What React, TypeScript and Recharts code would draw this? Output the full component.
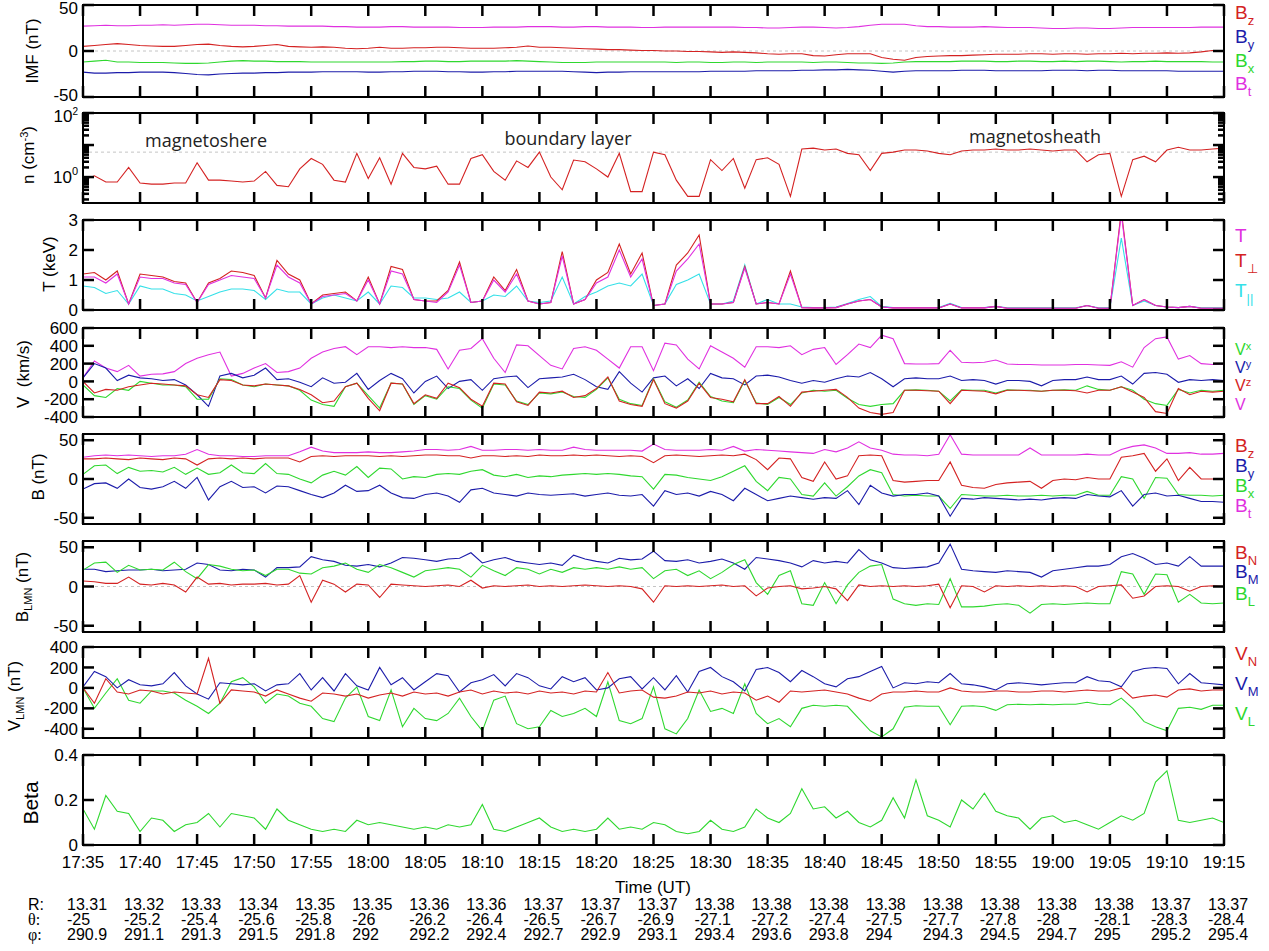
import React from "react";
import { LineChart, Line, XAxis, YAxis, ReferenceLine } from "recharts";

const FONT = "'Liberation Sans', Arial, sans-serif";
const FIG_W = 1269;
const FIG_H = 951;
const PLOT_L = 83;
const PLOT_R = 1224;
const PAD = 12;

const RED = "#d42222";
const BLUE = "#1c1caa";
const GREEN = "#2fd82f";
const MAGENTA = "#e030e0";
const CYAN = "#35e0e8";

// minutes after 17:35 UT
const MINUTES = [
  0, 1, 2, 3, 4, 5, 6, 7, 8, 9, 10, 11, 12, 13, 14, 15, 16, 17, 18, 19,
  20, 21, 22, 23, 24, 25, 26, 27, 28, 29, 30, 31, 32, 33, 34, 35, 36, 37, 38, 39,
  40, 41, 42, 43, 44, 45, 46, 47, 48, 49, 50, 51, 52, 53, 54, 55, 56, 57, 58, 59,
  60, 61, 62, 63, 64, 65, 66, 67, 68, 69, 70, 71, 72, 73, 74, 75, 76, 77, 78, 79,
  80, 81, 82, 83, 84, 85, 86, 87, 88, 89, 90, 91, 92, 93, 94, 95, 96, 97, 98, 99, 100,
];
const TICK_MIN = [0, 5, 10, 15, 20, 25, 30, 35, 40, 45, 50, 55, 60, 65, 70, 75, 80, 85, 90, 95, 100];
const TICK_LABELS = [
  "17:35", "17:40", "17:45", "17:50", "17:55", "18:00", "18:05", "18:10", "18:15", "18:20", "18:25",
  "18:30", "18:35", "18:40", "18:45", "18:50", "18:55", "19:00", "19:05", "19:10", "19:15",
];
const R_VALUES = ["13.31", "13.32", "13.33", "13.34", "13.35", "13.35", "13.36", "13.36", "13.37", "13.37", "13.37",
  "13.38", "13.38", "13.38", "13.38", "13.38", "13.38", "13.38", "13.38", "13.37", "13.37"];
const THETA_VALUES = ["-25", "-25.2", "-25.4", "-25.6", "-25.8", "-26", "-26.2", "-26.4", "-26.5", "-26.7", "-26.9",
  "-27.1", "-27.2", "-27.4", "-27.5", "-27.7", "-27.8", "-28", "-28.1", "-28.3", "-28.4"];
const PHI_VALUES = ["290.9", "291.1", "291.3", "291.5", "291.8", "292", "292.2", "292.4", "292.7", "292.9", "293.1",
  "293.4", "293.6", "293.8", "294", "294.3", "294.5", "294.7", "295", "295.2", "295.4"];

// crossing times (minutes after 17:35) marked by vertical lines
const EVENT_MIN = [18.8, 20.2, 22.2, 23.75, 26.2, 33.4, 42.6, 50.0, 56.6, 59.25, 67.75, 75.8, 79.3];

// IMF (nT)
const IMF_BT = [
  27, 27.5, 28, 27.5, 27.5, 28, 28, 28.5, 28, 28.5,
  29, 29, 28.5, 28, 28, 28, 27.5, 27.5, 27, 27,
  27, 27, 26.5, 26.5, 26, 26, 26, 26.5, 26.5, 26,
  26, 26, 26, 25.5, 25.5, 25.5, 26, 26, 26, 26.5,
  26.5, 26.5, 26, 26, 26.5, 26.5, 26, 26, 26, 25.5,
  25.5, 26, 26, 26, 26, 26, 26, 26, 25.5, 25.5,
  25, 25, 25.5, 26, 26, 25.5, 25, 25.5, 26.5, 28,
  29, 29, 29, 27.5, 26.5, 26.5, 26, 26, 26, 26.5,
  26, 25.5, 25.5, 25.5, 25, 24.5, 24.5, 25, 25, 24.5,
  24.5, 25, 25.5, 25.5, 25.5, 25.5, 25.5, 25.5, 26, 26,
  26,
];
const IMF_BZ = [
  5, 6, 7, 8, 7, 6, 5.5, 5, 5, 6,
  7, 7.5, 6, 5, 4.5, 5, 6, 7, 5, 4.5,
  4, 4.5, 4, 3, 2.5, 3, 4, 3, 3, 3.5,
  3.5, 4, 4, 3.5, 3, 3, 3, 3.5, 4, 5.5,
  4, 4, 3.5, 3, 2.5, 2, 1.5, 1.5, 1, 0.5,
  0.5, 0, 0, -0.5, -0.5, -1, -1.5, -1, -1.5, -2,
  -3, -3.5, -3, -3, -5, -5.5, -4, -3, -3, -3,
  -7, -9, -10, -7, -6, -5.5, -5, -5, -4.5, -4,
  -3.5, -3.5, -3.5, -3, -3, -3.5, -3, -3, -3.5, -3,
  -3, -2.5, -3, -2.5, -2.5, -2, -2.5, -2, -1, 0.5,
  0.5,
];
const IMF_BX = [
  -12, -11, -10, -12, -12, -12.5, -12.5, -12.5, -13, -13.5,
  -13.5, -13, -12, -11, -10.5, -11, -11, -11.5, -11.5, -11.5,
  -12, -12, -12, -12, -12, -12, -12, -12, -11.5, -11.5,
  -11, -11, -11.5, -11.5, -11, -11, -11, -11, -10.5, -11,
  -11.5, -12, -12.5, -12.5, -12.5, -12, -12, -12, -12, -12,
  -12, -12, -12.5, -12, -12, -12.5, -12.5, -12, -12, -12.5,
  -12, -12, -12, -12, -12.5, -12, -12, -12.5, -13, -13,
  -13.5, -13, -12, -11.5, -11.5, -11.5, -11.5, -11, -11, -11,
  -11.5, -11.5, -11, -11, -11.5, -11.5, -11, -11.5, -11, -11,
  -11.5, -12, -11.5, -11.5, -11, -11.5, -11.5, -11.5, -11.5, -12,
  -12,
];
const IMF_BY = [
  -23, -24, -24, -23.5, -23.5, -23, -23, -23, -23.5, -24.5,
  -25.5, -26, -25, -24.5, -24, -24, -23.5, -23.5, -23, -23,
  -23, -22.5, -22.5, -22.5, -22.5, -23, -23, -22.5, -22.5, -22,
  -22, -22, -22.5, -22.5, -23, -23, -22.5, -22.5, -22, -22,
  -22, -22, -22, -22.5, -23, -23.5, -23, -23, -22.5, -22.5,
  -22.5, -22.5, -22.5, -22.5, -22.5, -22, -22, -22, -22, -21.5,
  -21.5, -21.5, -21.5, -21, -21, -20.5, -20.5, -20, -20.5, -21,
  -22, -23, -22, -21.5, -21.5, -21.5, -21.5, -21, -21, -21,
  -21.5, -21.5, -21.5, -21.5, -21.5, -21, -21, -21, -21.5, -21,
  -21, -21.5, -21.5, -21.5, -21.5, -21.5, -22, -22, -22, -22,
  -22,
];

// ion density (cm^-3)
const DENSITY = [
  0.8, 1.1, 0.7, 0.7, 2.0, 0.65, 0.6, 0.6, 0.65, 0.65,
  2.8, 0.8, 0.8, 0.75, 0.7, 0.75, 1.5, 0.55, 0.5, 1.8,
  3.8, 2.5, 0.8, 0.7, 5.5, 0.9, 4.0, 0.6, 5.5, 2.0,
  1.8, 2.2, 0.6, 0.6, 3.8, 5.0, 1.5, 0.8, 3.2, 2.0,
  6.0, 1.0, 0.4, 3.4, 3.0, 1.8, 1.0, 5.5, 0.35, 0.35,
  6.0, 5.0, 0.8, 0.25, 0.25, 3.5, 1.6, 3.8, 0.45, 3.5,
  4.0, 2.5, 0.25, 7.5, 8, 7, 7.5, 5.5, 5, 1.6,
  5.5, 6, 7, 7, 6.5, 5.5, 5, 6.5, 7, 7,
  7.5, 7, 7, 7.5, 7, 6.5, 7, 7, 3, 5,
  5.5, 0.25, 3.5, 4.5, 3, 7, 8.5, 7, 7, 7.5,
  8,
];

// temperature (keV)
const T_TOT = [
  1.1, 1.1, 0.9, 1.2, 0.2, 1.1, 1.05, 1.05, 0.9, 0.85,
  0.25, 0.85, 1.0, 1.15, 1.1, 1.05, 0.4, 1.5, 1.1, 0.9,
  0.2, 0.45, 0.5, 0.55, 0.3, 1.0, 0.2, 1.3, 1.2, 0.35,
  0.3, 0.25, 0.6, 1.5, 0.25, 0.3, 1.0, 0.6, 1.2, 0.3,
  0.2, 0.25, 1.8, 0.2, 0.35, 0.9, 1.1, 2.0, 1.1, 1.7,
  0.15, 0.2, 1.3, 1.7, 2.2, 0.2, 0.2, 0.25, 1.4, 0.2,
  0.25, 0.2, 1.2, 0.08, 0.07, 0.07, 0.08, 0.2, 0.3, 0.35,
  0.1, 0.07, 0.07, 0.07, 0.07, 0.07, 0.2, 0.07, 0.07, 0.07,
  0.12, 0.06, 0.06, 0.06, 0.06, 0.06, 0.06, 0.06, 0.15, 0.06,
  0.06, 3.2, 0.15, 0.35, 0.15, 0.1, 0.08, 0.12, 0.06, 0.06,
  0.06,
];
const T_PERP = [
  1.2, 1.25, 1.0, 1.3, 0.2, 1.2, 1.15, 1.1, 0.95, 0.9,
  0.25, 0.9, 1.05, 1.3, 1.25, 1.15, 0.4, 1.65, 1.2, 1.0,
  0.2, 0.5, 0.55, 0.6, 0.3, 1.1, 0.2, 1.45, 1.35, 0.35,
  0.3, 0.3, 0.65, 1.6, 0.25, 0.3, 1.1, 0.65, 1.35, 0.3,
  0.2, 0.25, 1.95, 0.2, 0.35, 1.0, 1.25, 2.2, 1.2, 1.9,
  0.15, 0.2, 1.5, 1.9, 2.5, 0.2, 0.2, 0.25, 1.45, 0.2,
  0.25, 0.2, 1.3, 0.08, 0.07, 0.07, 0.08, 0.2, 0.3, 0.35,
  0.1, 0.07, 0.07, 0.07, 0.07, 0.07, 0.2, 0.07, 0.07, 0.07,
  0.12, 0.06, 0.06, 0.06, 0.06, 0.06, 0.06, 0.06, 0.15, 0.06,
  0.06, 3.3, 0.15, 0.35, 0.15, 0.1, 0.08, 0.12, 0.06, 0.06,
  0.06,
];
const T_PAR = [
  0.8, 0.75, 0.55, 0.65, 0.2, 0.8, 0.7, 0.7, 0.55, 0.5,
  0.3, 0.45, 0.6, 0.7, 0.7, 0.65, 0.35, 0.7, 0.6, 0.6,
  0.2, 0.4, 0.5, 0.4, 0.3, 0.6, 0.2, 0.8, 0.75, 0.4,
  0.4, 0.35, 0.4, 0.6, 0.25, 0.3, 0.5, 0.45, 0.8, 0.3,
  0.25, 0.3, 1.1, 0.2, 0.45, 0.6, 0.8, 0.9, 0.8, 1.2,
  0.15, 0.2, 0.85, 1.0, 1.2, 0.2, 0.2, 0.3, 1.5, 0.2,
  0.35, 0.2, 0.2, 0.1, 0.08, 0.08, 0.1, 0.22, 0.35, 0.45,
  0.12, 0.08, 0.08, 0.08, 0.08, 0.08, 0.22, 0.08, 0.08, 0.08,
  0.12, 0.07, 0.07, 0.07, 0.07, 0.07, 0.07, 0.07, 0.15, 0.07,
  0.07, 2.4, 0.15, 0.3, 0.15, 0.1, 0.08, 0.12, 0.07, 0.07,
  0.07,
];

// ion velocity (km/s)
const V_TOT = [
  40, 230, 150, 110, 180, 60, 80, 85, 110, 200,
  260, 300, 330, 60, 90, 150, 200, 100, 110, 150,
  260, 330, 370, 390, 300, 390, 390, 380, 390, 380,
  380, 360, 140, 350, 370, 480, 260, 100, 410, 400,
  290, 180, 140, 370, 390, 350, 250, 150, 390, 390,
  120, 430, 410, 250, 140, 400, 330, 260, 160, 390,
  390, 380, 400, 300, 360, 380, 190, 300, 420, 380,
  520, 480, 200, 195, 195, 200, 350, 215, 210, 215,
  240, 195, 190, 190, 185, 185, 185, 190, 190, 185,
  180, 220, 160, 380, 480, 500, 250, 290, 200, 190,
  195,
];
const V_Y = [
  40, 200, 150, 10, 70, 40, 30, 10, 20, -40,
  -150, -280, 60, 90, 40, 70, 150, 20, 30, -10,
  -60, 40, -20, -10, 90, -90, 10, 90, 30, -130,
  0, 60, -80, 0, 20, -100, 30, 50, 60, -70,
  30, 40, 50, 80, 20, -60, -90, 110, -20, -120,
  40, 60, -50, 30, -80, 90, 40, 30, -40, 60,
  70, 50, 10, -20, 10, -10, 30, 60, 50, 100,
  30, -60, 30, 40, 30, 30, 60, 10, 20, 10,
  -30, 10, 10, 0, -50, 10, 20, 20, 50, 20,
  20, 60, -30, 90, 100, 80, -10, 20, 10, 20,
  10,
];
const V_Z = [
  0, -130, -90, -100, -60, -40, -20, -30, -40, -50,
  -150, -180, 20, 10, -40, -50, -30, -40, -50, -90,
  -150, -240, -220, -60, -20, -190, -330, -20, -30, -250,
  -150, -190, -20, -70, -200, -280, -20, -30, -230, -270,
  -120, -130, -110, -180, -160, -80, 50, -220, -260, -280,
  20, -250, -300, -220, -20, -180, -200, -230, 20, -250,
  -250, -170, -280, -120, -110, -100, -90, -180, -300, -350,
  -370, -350, -100, -100, -105, -110, -250, -100, -105, -110,
  -140, -100, -100, -105, -110, -100, -100, -105, -130, -100,
  -100, -60, -120, -180, -340, -360, -80, -150, -110, -120,
  -110,
];
const V_X = [
  -40, -160, -180, -80, -100, 0, -20, -40, -40, -60,
  -200, -200, 30, 20, -40, -60, -30, -40, -50, -100,
  -210, -260, -280, -60, -20, -160, -300, -20, -30, -260,
  -160, -200, -60, -80, -210, -300, -30, -40, -220, -260,
  -130, -140, -120, -170, -180, -90, 40, -200, -250, -270,
  30, -230, -290, -210, -10, -170, -220, -240, 10, -240,
  -260, -180, -260, -130, -100, -110, -100, -190, -260, -280,
  -260, -250, -100, -95, -100, -110, -220, -95, -100, -100,
  -130, -95, -100, -100, -110, -100, -95, -100, -50, -90,
  -100, -60, -100, -200, -250, -270, -90, -130, -100, -110,
  -100,
];

// magnetic field GSM (nT)
const B_T = [
  28, 30, 31, 30, 31, 30, 29, 30, 30, 32,
  38, 32, 30, 30, 29, 29, 30, 30, 30, 35,
  41, 36, 34, 34, 34, 35, 34, 34, 35, 36,
  38, 38, 37, 38, 42, 37, 37, 38, 38, 37,
  38, 37, 37, 41, 38, 37, 37, 37, 37, 36,
  45, 38, 37, 37, 37, 38, 37, 42, 36, 38,
  37, 36, 35, 34, 33, 38, 35, 40, 48, 40,
  37, 32, 31, 31, 30, 32, 57, 32, 31, 31,
  31, 31, 31, 40, 31, 31, 31, 31, 32, 31,
  31, 38, 42, 44, 40, 33, 33, 34, 32, 32,
  33,
];
const B_Z = [
  26, 26, 27, 26, 25, 27, 26, 25, 27, 26,
  18, 26, 27, 26, 27, 26, 27, 27, 27, 22,
  29, 30, 29, 30, 30, 30, 29, 30, 29, 30,
  31, 31, 30, 30, 27, 30, 30, 29, 30, 29,
  31, 30, 30, 31, 30, 31, 30, 29, 30, 29,
  21, 30, 31, 30, 29, 30, 31, 30, 32, 25,
  12, 27, 26, 2, -3, 22, 0, 4, 30, 31,
  30, -2, -4, -3, -2, -2, 22, -8, -11, -12,
  -7, -5, -4, -3, -12, -2, 0, -1, 2, 0,
  0, 28, 30, 33, 10, 26, -2, 15, 0, 0,
  0,
];
const B_X = [
  6, 17, 18, 7, 15, 10, 11, 9, 15, 6,
  14, 6, 8, 18, 8, 7, 20, 7, 6, 0,
  -5, 5, 10, 5, 16, 2, 14, 13, 0, 3,
  2, 6, 7, 6, 10, 12, 5, 3, 6, 2,
  4, 3, 5, 6, 7, 6, 7, 6, 4, 3,
  -13, 6, 5, 2, 0, -2, 3, 10, 17, -3,
  -15, 2, 0, -20, -22, -5, -22, -10, 4, 12,
  8, -20, -22, -21, -22, -22, -38, -20, -21, -22,
  -22, -21, -22, -22, -21, -22, -21, -21, -16, -21,
  -21, 3, 0, -25, 2, 1, -20, -21, -21, -22,
  -21,
];
const B_Y = [
  -13, -6, -5, -12, 0, -11, -13, -10, -3, -12,
  2, -27, -10, -3, -11, -10, -18, -9, -10, -15,
  -20, -24, -18, -8, -16, -15, -8, -18, -24, -25,
  -20, -18, -22, -30, -14, -12, -18, -20, -22, -18,
  -20, -21, -20, -19, -22, -20, -18, -21, -22, -20,
  -35, -15, -20, -18, -22, -16, -20, -28, -12, -20,
  -28, -25, -22, -24, -26, -24, -25, -15, -33, -8,
  -18, -22, -20, -20, -18, -22, -48, -25, -26, -24,
  -25, -26, -27, -26, -27, -25, -24, -25, -20, -22,
  -23, -15, -35, -20, -18, -22, -21, -25, -29, -29,
  -30,
];

// magnetic field LMN (nT)
const B_M = [
  22, 22, 19, 20, 21, 21, 22, 20, 21, 22,
  30, 28, 21, 20, 22, 21, 12, 24, 24, 25,
  38, 34, 32, 27, 26, 28, 25, 30, 37, 36,
  34, 32, 35, 36, 43, 30, 34, 37, 32, 30,
  28, 30, 27, 40, 35, 32, 30, 36, 34, 35,
  45, 33, 32, 34, 30, 32, 35, 30, 22, 37,
  35, 33, 30, 25, 33, 30, 32, 30, 47, 34,
  30, 24, 23, 24, 25, 30, 54, 22, 20, 19,
  18, 20, 19, 18, 12, 20, 22, 24, 26, 26,
  28, 38, 42, 36, 28, 30, 26, 38, 26, 26,
  26,
];
const B_L = [
  21, 30, 31, 18, 27, 21, 22, 21, 31, 19,
  10, 28, 26, 22, 20, 21, 14, 22, 22, 17,
  16, 24, 26, 30, 22, 18, 28, 24, 18, 12,
  20, 22, 24, 22, 12, 27, 20, 14, 24, 22,
  16, 22, 18, 24, 22, 24, 22, 25, 22, 24,
  10, 20, 22, 14, 20, 10, 18, 28, 34, 5,
  -10, 14, 20, -22, -24, 5, -22, 2, 18, 26,
  28, -16, -22, -24, -22, -23, 10, -26, -26, -25,
  -23, -22, -24, -34, -23, -22, -23, -22, -21, -22,
  -22, 19, 16, -10, 16, 15, -20, -10, -21, -22,
  -21,
];
const B_N = [
  7, 6, 4, 4, 12, 3, 2, 4, 2, -7,
  12, 3, 4, 2, 3, 3, 4, 2, 3, 14,
  -20, 8, 3, -7, 3, 2, -14, 3, 2, 1,
  0, 1, 2, 0, 8, -2, 1, 0, 1, 2,
  0, 1, 0, 1, 2, 1, 0, 1, 0, -3,
  -20, 1, 0, 1, 0, 1, 2, 0, 1, -12,
  -2, 0, 1, -3, -2, 0, -3, -18, 2, 0,
  1, 0, 1, 0, 1, 3, -27, 1, 0, -7,
  1, 0, 1, 0, 1, 0, 1, 0, -7, 0,
  1, 2, -15, -12, 0, 1, 0, -6, 0, 1,
  0,
];

// velocity LMN
const V_M = [
  10, 160, 110, 0, 80, 30, 20, 40, 150, 20,
  -60, -110, 50, 40, 30, 40, -30, 30, 40, 140,
  -20, 100, -30, 140, 20, -20, 200, 30, 100, -20,
  60, 140, 120, -40, 50, 80, 130, 20, 140, 100,
  20, -10, 110, 60, 100, -20, 0, 90, 110, -10,
  100, -20, 120, -40, 160, 200, 110, 60, -30, 180,
  200, 150, 60, 170, 110, 40, 10, 90, 110, 160,
  210, 0, 50, 40, 60, 50, 140, 40, 30, 10,
  -20, 40, 50, 40, 30, 40, 50, 50, 110, 70,
  60, 10, 160, 190, 200, 190, 40, 140, 50, 40,
  30,
];
const V_N = [
  0, -150, 90, -40, -60, -20, -30, -60, -40, -50,
  -60, 290, -150, -20, -30, -40, -80, -20, -60, -100,
  -130, -50, -60, -80, -60, -100, -70, -50, -80, -40,
  -60, -50, -80, -40, -20, -60, -30, -50, -40, -60,
  -30, -50, -40, -60, -30, -40, 150, -50, -30, -20,
  -90, -100, -80, -40, -50, -30, -60, -40, -50, -120,
  -80, -140, -30, -40, -30, -20, -40, -60, -100, -130,
  -60, -40, -40, -30, -40, -40, 0, -30, -40, -40,
  -30, -30, -40, -40, -30, -30, -40, -30, -20, -30,
  -30, 0, -100, -80, -70, -90, -20, -10, -30, -20,
  -20,
];
const V_L = [
  0, -200, -50, 90, -120, -150, -30, -30, -50, -120,
  -180, -250, -150, 60, 100, 10, -150, -60, -80, -150,
  -180, -300, -330, -100, 10, -280, -320, -20, -380, -200,
  -300, -320, -250, -100, -280, -420, -120, -80, -350, -400,
  -380, -220, -280, -250, -200, -280, 60, -320, -350, -300,
  10, -400, -450, -300, -20, -230, -200, -250, 40, -250,
  -350, -300, -380, -200, -170, -180, -170, -180, -300, -420,
  -480, -400, -190, -175, -180, -180, -360, -180, -175, -185,
  -220, -165, -160, -165, -160, -165, -160, -160, -140, -160,
  -165, -100, -200, -330, -380, -420, -200, -190, -210, -170,
  -170,
];

// plasma beta
const BETA = [
  0.16, 0.07, 0.22, 0.15, 0.14, 0.06, 0.12, 0.11, 0.06, 0.09,
  0.1, 0.14, 0.08, 0.14, 0.13, 0.12, 0.07, 0.16, 0.11, 0.09,
  0.07, 0.06, 0.07, 0.06, 0.11, 0.09, 0.1, 0.09, 0.08, 0.07,
  0.08, 0.07, 0.09, 0.08, 0.09, 0.18, 0.07, 0.06, 0.08, 0.1,
  0.12, 0.08, 0.06, 0.07, 0.06, 0.07, 0.12, 0.07, 0.08, 0.07,
  0.1, 0.09, 0.06, 0.05, 0.06, 0.11, 0.07, 0.06, 0.08, 0.16,
  0.12, 0.1, 0.14, 0.25, 0.16, 0.17, 0.12, 0.15, 0.1, 0.08,
  0.11, 0.21, 0.12, 0.29, 0.13, 0.11, 0.08, 0.2, 0.16, 0.23,
  0.15, 0.13, 0.12, 0.07, 0.12, 0.13, 0.1, 0.11, 0.09, 0.07,
  0.1, 0.13, 0.11, 0.14, 0.28, 0.33, 0.11, 0.1, 0.11, 0.12,
  0.1,
];

type Series = { key: string; values: number[]; color: string };
type Spec = {
  id: string;
  top: number;
  bottom: number;
  domain: [number, number];
  ticks: number[];
  fmt: (v: number) => React.ReactNode | null;
  series: Series[];
  log?: boolean;
  refY?: number;
  last?: boolean;
  nudgeTop?: number;
  nudgeBottom?: number;
};

const plain = (v: number) => String(v);
const LOG_TICKS = [0.2, 0.3, 0.4, 0.5, 0.6, 0.7, 0.8, 0.9, 1, 2, 3, 4, 5, 6, 7, 8, 9, 10, 20, 30, 40, 50, 60, 70, 80, 90, 100];
const logFmt = (v: number) => {
  if (v === 1) return <tspan>10<tspan dy={-8} fontSize={11}>0</tspan></tspan>;
  if (v === 100) return <tspan>10<tspan dy={-7} fontSize={10}>2</tspan></tspan>;
  if (v === 10) return "";
  return null;
};

const PANELS: Spec[] = [
  { id: "imf", top: 5, bottom: 97, domain: [-50, 50], ticks: [-50, 0, 50], fmt: plain, refY: 0,
    nudgeTop: 3, nudgeBottom: -2,
    series: [
      { key: "bt", values: IMF_BT, color: MAGENTA },
      { key: "bx", values: IMF_BX, color: GREEN },
      { key: "by", values: IMF_BY, color: BLUE },
      { key: "bz", values: IMF_BZ, color: RED },
    ] },
  { id: "n", top: 113, bottom: 203, domain: [0.155, 100], ticks: LOG_TICKS, fmt: logFmt, log: true, refY: 6,
    nudgeTop: 3,
    series: [{ key: "dens", values: DENSITY, color: RED }] },
  { id: "temp", top: 220, bottom: 310, domain: [0, 3], ticks: [0, 1, 2, 3], fmt: plain,
    series: [
      { key: "tpar", values: T_PAR, color: CYAN },
      { key: "tperp", values: T_PERP, color: RED },
      { key: "ttot", values: T_TOT, color: MAGENTA },
    ] },
  { id: "v", top: 328, bottom: 417, domain: [-400, 600], ticks: [-400, -200, 0, 200, 400, 600], fmt: plain,
    series: [
      { key: "vt", values: V_TOT, color: MAGENTA },
      { key: "vy", values: V_Y, color: BLUE },
      { key: "vx", values: V_X, color: GREEN },
      { key: "vz", values: V_Z, color: RED },
    ] },
  { id: "b", top: 434, bottom: 524, domain: [-58, 58], ticks: [-50, 0, 50], fmt: plain,
    series: [
      { key: "bt", values: B_T, color: MAGENTA },
      { key: "bx", values: B_X, color: GREEN },
      { key: "by", values: B_Y, color: BLUE },
      { key: "bz", values: B_Z, color: RED },
    ] },
  { id: "blmn", top: 541, bottom: 632, domain: [-58, 58], ticks: [-50, 0, 50], fmt: plain, refY: 0,
    series: [
      { key: "bm", values: B_M, color: BLUE },
      { key: "bl", values: B_L, color: GREEN },
      { key: "bn", values: B_N, color: RED },
    ] },
  { id: "vlmn", top: 647, bottom: 738, domain: [-490, 400], ticks: [-400, -200, 0, 200, 400], fmt: plain,
    series: [
      { key: "vl", values: V_L, color: GREEN },
      { key: "vm", values: V_M, color: BLUE },
      { key: "vn", values: V_N, color: RED },
    ] },
  { id: "beta", top: 755, bottom: 845, domain: [0, 0.4], ticks: [0, 0.2, 0.4], fmt: plain, last: true,
    series: [{ key: "beta", values: BETA, color: GREEN }] },
];

const buildRows = (series: Series[]) =>
  MINUTES.map((t, i) => {
    const row: Record<string, number> = { t };
    series.forEach((s) => { row[s.key] = s.values[i]; });
    return row;
  });

function makeYTick(p: Spec) {
  const [lo, hi] = p.domain;
  return (props: any) => {
    const { y, payload } = props;
    const v = payload.value;
    const label = p.fmt(v);
    const len = label === null ? 6 : 11;
    const nudge = v === hi ? p.nudgeTop ?? 0 : v === lo ? p.nudgeBottom ?? 0 : 0;
    return (
      <g>
        <line x1={PLOT_L} x2={PLOT_L + len} y1={y} y2={y} stroke="#000" strokeWidth={2.5} />
        <line x1={PLOT_R - len} x2={PLOT_R} y1={y} y2={y} stroke="#000" strokeWidth={2.5} />
        {label !== null && label !== "" && (
          <text x={PLOT_L - 5} y={y + nudge} dy="0.36em" textAnchor="end" fontSize={17} fontFamily={FONT} fill="#000">
            {label}
          </text>
        )}
      </g>
    );
  };
}

function makeXTick(plotTop: number, plotBottom: number, last: boolean) {
  return (props: any) => {
    const { x, payload } = props;
    const i = TICK_MIN.indexOf(payload.value);
    return (
      <g>
        <line x1={x} x2={x} y1={plotTop} y2={plotTop + 11} stroke="#000" strokeWidth={2.5} />
        <line x1={x} x2={x} y1={plotBottom - 11} y2={plotBottom} stroke="#000" strokeWidth={2.5} />
        {last && (
          <g fontFamily={FONT} fill="#000">
            <text x={x} y={plotBottom + 23} textAnchor="middle" fontSize={17}>{TICK_LABELS[i]}</text>
            <g fontSize={16}>
              <text x={x - 16} y={plotBottom + 65}>{R_VALUES[i]}</text>
              <text x={x - 16} y={plotBottom + 80}>{THETA_VALUES[i]}</text>
              <text x={x - 16} y={plotBottom + 95}>{PHI_VALUES[i]}</text>
            </g>
          </g>
        )}
      </g>
    );
  };
}

function Panel({ p }: { p: Spec }) {
  const h = p.bottom - p.top;
  const xh = p.last ? 105 : PAD;
  const rows = buildRows(p.series);
  return (
    <div style={{ position: "absolute", left: 0, top: p.top - PAD }}>
      <LineChart width={FIG_W} height={h + PAD + xh} data={rows}
        margin={{ top: PAD, right: FIG_W - PLOT_R, bottom: 0, left: 0 }}>
        <XAxis dataKey="t" type="number" domain={[0, 100]} ticks={TICK_MIN} interval={0} height={xh}
          axisLine={false} tickLine={false} allowDataOverflow tick={makeXTick(PAD, PAD + h, !!p.last)} />
        <YAxis type="number" scale={p.log ? "log" : "linear"} domain={p.domain} ticks={p.ticks} interval={0}
          width={PLOT_L} axisLine={false} tickLine={false} allowDataOverflow tick={makeYTick(p)} />
        {p.refY !== undefined && (
          <ReferenceLine y={p.refY} stroke="#c4c4c4" strokeDasharray="3 3" strokeWidth={1} />
        )}
        {p.series.map((s) => (
          <Line key={s.key} type="linear" dataKey={s.key} stroke={s.color} strokeWidth={1.1}
            dot={false} activeDot={false} isAnimationActive={false} />
        ))}
      </LineChart>
      <div style={{
        position: "absolute", left: PLOT_L - 1.25, top: PAD - 1.25, width: PLOT_R - PLOT_L + 2.5, height: h + 2.5,
        border: "2.5px solid #000", boxSizing: "border-box", pointerEvents: "none",
      }} />
    </div>
  );
}

function EventLines() {
  const top = PANELS[4].top;
  const bottom = PANELS[5].bottom;
  const rows = buildRows(PANELS[4].series);
  return (
    <div style={{ position: "absolute", left: 0, top: top - PAD, pointerEvents: "none" }}>
      <LineChart width={FIG_W} height={bottom - top + 2 * PAD} data={rows}
        margin={{ top: PAD, right: FIG_W - PLOT_R, bottom: PAD, left: PLOT_L }}>
        <XAxis dataKey="t" type="number" domain={[0, 100]} hide />
        <YAxis type="number" domain={[0, 1]} hide />
        {EVENT_MIN.map((e) => (
          <ReferenceLine key={e} x={e} stroke="#000" strokeWidth={1.6} />
        ))}
      </LineChart>
    </div>
  );
}

function AxisTitle({ cx, cy, size = 17, children }: { cx: number; cy: number; size?: number; children: React.ReactNode }) {
  return (
    <div style={{
      position: "absolute", left: cx, top: cy, transform: "translate(-50%, -50%) rotate(-90deg)",
      whiteSpace: "nowrap", fontSize: size, lineHeight: 1, fontFamily: FONT, color: "#000",
    }}>{children}</div>
  );
}

function Legend({ cy, color, main, sub, up, size = 19 }: {
  cy: number; color: string; main: string; sub: string; up?: boolean; size?: number;
}) {
  const lh = size - 2;
  return (
    <div style={{
      position: "absolute", left: 1235, top: cy - lh / 2, color, fontSize: size, lineHeight: `${lh}px`,
      whiteSpace: "nowrap", fontFamily: FONT,
    }}>
      {main}
      <span style={{ fontSize: Math.round(size * 0.68), position: "relative", top: up ? -5 : 6 }}>{sub}</span>
    </div>
  );
}

function Note({ cx, cy, children }: { cx: number; cy: number; children: React.ReactNode }) {
  return (
    <div style={{
      position: "absolute", left: cx, top: cy, transform: "translate(-50%, -50%)", whiteSpace: "nowrap",
      fontSize: 18, fontFamily: "'Open Sans', sans-serif", color: "#222", lineHeight: 1,
    }}>{children}</div>
  );
}

export default function App() {
  const rowLabel = { position: "absolute" as const, left: 28, fontSize: 16, fontFamily: FONT, color: "#000", lineHeight: "14px" };
  return (
    <div style={{ position: "absolute", left: 0, top: 0, width: FIG_W, height: FIG_H, background: "#fff", overflow: "hidden" }}>
      {PANELS.map((p) => <Panel key={p.id} p={p} />)}
      <EventLines />

      <AxisTitle cx={32} cy={51}>IMF (nT)</AxisTitle>
      <AxisTitle cx={28} cy={155}>n (cm<sup style={{ fontSize: 11 }}>-3</sup>)</AxisTitle>
      <AxisTitle cx={49} cy={264}>T (keV)</AxisTitle>
      <AxisTitle cx={23} cy={374}>V&nbsp;&nbsp;(km/s)</AxisTitle>
      <AxisTitle cx={38} cy={477}>B (nT)</AxisTitle>
      <AxisTitle cx={24} cy={587}>B<sub style={{ fontSize: 11 }}>LMN</sub> (nT)</AxisTitle>
      <AxisTitle cx={16} cy={696}>V<sub style={{ fontSize: 11 }}>LMN</sub> (nT)</AxisTitle>
      <AxisTitle cx={30} cy={803} size={21}>Beta</AxisTitle>

      <Note cx={206} cy={140}>magnetoshere</Note>
      <Note cx={568} cy={138}>boundary layer</Note>
      <Note cx={1035} cy={136}>magnetosheath</Note>

      <Legend cy={12} color={RED} main="B" sub="z" />
      <Legend cy={36} color={BLUE} main="B" sub="y" />
      <Legend cy={60} color={GREEN} main="B" sub="x" />
      <Legend cy={83} color={MAGENTA} main="B" sub="t" />

      <Legend cy={235} color={MAGENTA} main="T" sub="" />
      <Legend cy={260} color={RED} main="T" sub="⊥" />
      <Legend cy={290} color={CYAN} main="T" sub="||" />

      <Legend cy={350} color={GREEN} main="V" sub="x" up size={16} />
      <Legend cy={368} color={BLUE} main="V" sub="y" up size={16} />
      <Legend cy={386} color={RED} main="V" sub="z" up size={16} />
      <Legend cy={405} color={MAGENTA} main="V" sub="" size={16} />

      <Legend cy={445} color={RED} main="B" sub="z" />
      <Legend cy={465} color={BLUE} main="B" sub="y" />
      <Legend cy={485} color={GREEN} main="B" sub="x" />
      <Legend cy={505} color={MAGENTA} main="B" sub="t" />

      <Legend cy={552} color={RED} main="B" sub="N" />
      <Legend cy={571} color={BLUE} main="B" sub="M" />
      <Legend cy={593} color={GREEN} main="B" sub="L" />

      <Legend cy={653} color={RED} main="V" sub="N" />
      <Legend cy={683} color={BLUE} main="V" sub="M" />
      <Legend cy={713} color={GREEN} main="V" sub="L" />

      <div style={{ position: "absolute", left: 653, top: 879, transform: "translateX(-50%)", fontSize: 17, fontFamily: FONT, lineHeight: "17px" }}>
        Time (UT)
      </div>
      <div style={{ ...rowLabel, top: 898 }}>R:</div>
      <div style={{ ...rowLabel, top: 913, fontFamily: "'Liberation Serif', serif" }}>θ:</div>
      <div style={{ ...rowLabel, top: 928, fontFamily: "'Liberation Serif', serif" }}>φ:</div>
    </div>
  );
}
